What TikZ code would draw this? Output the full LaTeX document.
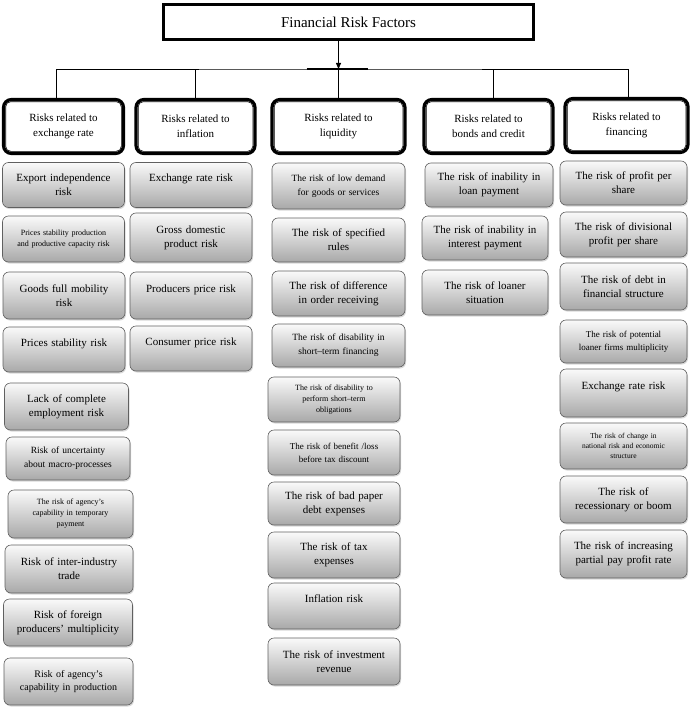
\documentclass[tikz,border=0pt]{standalone}
\usepackage{fontspec}
\setmainfont{Liberation Serif}
\usetikzlibrary{positioning,arrows.meta,shadows}

\begin{document}
\begin{tikzpicture}[
    x=1pt, y=-1pt,
    topbox/.style={
        draw,
        line width=3pt,
        minimum width=370pt,
        minimum height=35pt,
        font=\fontsize{15}{18}\selectfont
    },
    head/.style={
        draw,
        line width=3.2pt,
        rounded corners=8pt,
        fill=white,
        minimum height=54pt,
        align=center,
        font=\fontsize{11}{15}\selectfont
    },
    cell/.style={
        draw=gray!75!black,
        line width=0.6pt,
        rounded corners=6pt,
        top color=gray!4,
        bottom color=gray!68,
        drop shadow={shadow xshift=1pt, shadow yshift=-1.5pt, opacity=0.3},
        align=center,
        inner xsep=3pt,
        inner ysep=2pt,
        minimum height=45pt,
        text width=#1,
        font=\fontsize{11}{14}\selectfont
    },
    cell/.default=116pt,
    fa/.style={font=\fontsize{8}{11}\selectfont},
    fb/.style={font=\fontsize{9}{13}\selectfont},
    fc/.style={font=\fontsize{9.5}{14}\selectfont},
    fd/.style={font=\fontsize{10}{13}\selectfont}
]
\useasboundingbox (0,0) rectangle (696,725);

% Title
\node[topbox] (root) at (348.5,22) {Financial Risk Factors};

% Group headers
\node[head, minimum width=120pt] (exch) at (63.5,126.5) {Risks related to\\exchange rate};
\node[head, minimum width=119pt] (infl) at (195.5,126.5) {Risks related to\\inflation};
\node[head, minimum width=133pt] (liq) at (338.5,126.5) {Risks related to\\liquidity};
\node[head, minimum width=129pt] (bond) at (488.5,126.5) {Risks related to\\bonds and credit};
\node[head, minimum width=123pt] (fin) at (626.5,125.5) {Risks related to\\financing};
\foreach \h in {exch,infl,liq,bond,fin}
    \draw[line width=0.6pt, rounded corners=5pt]
        ([shift={(3.8pt,-3.8pt)}]\h.north west) rectangle ([shift={(-3.8pt,3.8pt)}]\h.south east);

% Connectors
\coordinate (bus) at (338.5,69);
\draw[line width=0.8pt, -{Triangle[length=6pt,width=5pt]}] (root.south -| bus) -- (bus);
\draw[line width=1.6pt] ([xshift=-32pt]bus) -- ([xshift=29pt]bus);
\draw[line width=0.8pt] ([xshift=-7pt]exch.north) |- (bus) -| ([xshift=1.5pt]fin.north);
\draw[line width=0.8pt] (bus) -- (liq.north);
\draw[line width=0.8pt] (infl.north) -- (infl.north |- bus);
\draw[line width=0.8pt] ([xshift=4.5pt]bond.north) -- ([xshift=4.5pt]bond.north |- bus);

% Exchange rate column
\node[cell] (exch1) at (63.5,185) {Export independence\\risk};
\node[cell, fa, minimum height=46pt] (exch2) at (63.5,239) {Prices stability production\\and productive capacity risk};
\node[cell, minimum height=47pt] (exch3) at (64,295.5) {Goods full mobility\\risk};
\node[cell] (exch4) at (64,349.5) {Prices stability risk\\~};
\node[cell=118pt, minimum height=47pt] (exch5) at (66.5,406.5) {Lack of complete\\employment risk};
\node[cell=118pt, fc, minimum height=43pt] (exch6) at (68,458.5) {Risk of uncertainty\\about macro-processes};
\node[cell=119pt, fa, minimum height=48pt] (exch7) at (70.5,514) {The risk of agency's\\capability in temporary\\payment};
\node[cell=122pt, minimum height=48pt] (exch8) at (69,569) {Risk of inter-industry\\trade};
\node[cell=123pt, minimum height=47pt] (exch9) at (68,622.5) {Risk of foreign\\producers' multiplicity};
\node[cell=123pt, fd, minimum height=47pt] (exch10) at (68.5,681.5) {Risk of agency's\\capability in production};

% Inflation column
\node[cell] (infl1) at (191,185) {Exchange rate risk\\~};
\node[cell, minimum height=49pt] (infl2) at (191,237.5) {Gross domestic\\product risk};
\node[cell, minimum height=47pt] (infl3) at (191,295.5) {Producers price risk\\~};
\node[cell] (infl4) at (191,348.5) {Consumer price risk\\~};

% Liquidity column
\node[cell=127pt, fc, minimum height=46pt] (liq1) at (338.5,186) {The risk of low demand\\for goods or services};
\node[cell=127pt, minimum height=44pt] (liq2) at (338.5,240) {The risk of specified\\rules};
\node[cell=127pt] (liq3) at (338.5,293.5) {The risk of difference\\in order receiving};
\node[cell=127pt, fc, minimum height=43pt] (liq4) at (338.5,345.5) {The risk of disability in\\short--term financing};
\node[cell=126pt, fa] (liq5) at (334,399.5) {The risk of disability to\\perform short--term\\obligations};
\node[cell=126pt, fb] (liq6) at (334,452.5) {The risk of benefit /loss\\before tax discount};
\node[cell=126pt, minimum height=43pt] (liq7) at (334,503.5) {The risk of bad paper\\debt expenses};
\node[cell=126pt, minimum height=46pt] (liq8) at (334,555) {The risk of tax\\expenses};
\node[cell=126pt, minimum height=46pt] (liq9) at (334,606) {Inflation risk\\~};
\node[cell=126pt, minimum height=47pt] (liq10) at (334,661.5) {The risk of investment\\revenue};

% Bonds and credit column
\node[cell=122pt, minimum height=44pt] (bond1) at (489,185) {The risk of inability in\\loan payment};
\node[cell=120pt, minimum height=44pt] (bond2) at (485,238) {The risk of inability in\\interest payment};
\node[cell=120pt] (bond3) at (485,292.5) {The risk of loaner\\situation};

% Financing column
\node[cell=121pt, minimum height=44pt] (fin1) at (623.5,183) {The risk of profit per\\share};
\node[cell=121pt] (fin2) at (623.5,234.5) {The risk of divisional\\profit per share};
\node[cell=121pt, minimum height=47pt] (fin3) at (623.5,286.5) {The risk of debt in\\financial structure};
\node[cell=121pt, fb, minimum height=43pt] (fin4) at (623.5,341.5) {The risk of potential\\loaner firms multiplicity};
\node[cell=121pt, minimum height=48pt] (fin5) at (623.5,393) {Exchange rate risk\\~};
\node[cell=121pt, font=\fontsize{7.5}{10}\selectfont, minimum height=46pt] (fin6) at (623.5,446) {The risk of change in\\national risk and economic\\structure};
\node[cell=121pt, minimum height=47pt] (fin7) at (623.5,499.5) {The risk of\\recessionary or boom};
\node[cell=121pt, minimum height=48pt] (fin8) at (623.5,554) {The risk of increasing\\partial pay profit rate};

\end{tikzpicture}
\end{document}
